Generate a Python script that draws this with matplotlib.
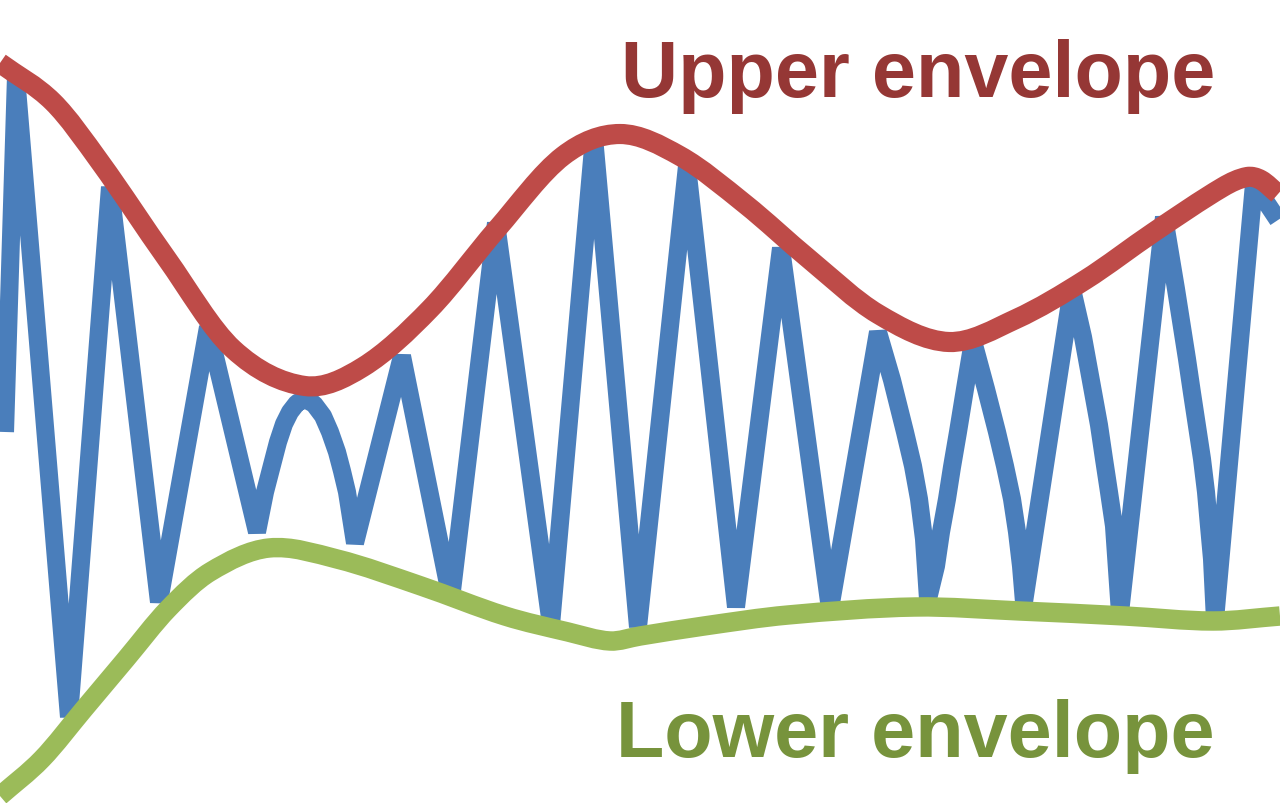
import matplotlib
matplotlib.use("Agg")
import matplotlib.pyplot as plt
import numpy as np
from matplotlib.path import Path
from matplotlib.patches import PathPatch

# Signal (pixel-space coordinates; y grows downward)
signal_x = [5, 16, 69, 110, 159, 208, 257, 265, 272, 278, 284, 290, 297, 305, 314, 323, 330, 337,
            342, 347, 355, 402, 451, 496, 551, 594, 638, 687, 736, 781, 830, 878, 892, 905, 913,
            919, 924, 928, 936, 941, 947, 952, 958, 965, 973, 986, 997, 1005, 1012, 1017,
            1021, 1024, 1072, 1083, 1093, 1099, 1104, 1109, 1114, 1120, 1164, 1176, 1187, 1192,
            1197, 1202, 1206, 1209, 1212, 1215, 1254, 1278]
signal_y = [433, 77, 718, 188, 603, 328, 533, 493, 466, 443, 425, 413, 404, 400, 405, 417, 433, 453,
            472, 493, 544, 357, 600, 224, 626, 138, 628, 167, 608, 249, 610, 333, 381, 433, 467,
            500, 540, 600, 567, 533, 500, 468, 433, 390, 342, 390, 433, 467, 500, 533,
            567, 603, 290, 338, 393, 426, 460, 493, 527, 614, 218, 290, 360, 394,
            427, 460, 493, 527, 560, 621, 185, 221]

# Upper envelope
upper_x = [0, 53, 100, 167, 233, 305, 363, 430, 497, 563, 620, 680, 745, 809, 878, 949, 1016,
           1085, 1154, 1223, 1247, 1261, 1278]
upper_y = [64, 103, 163, 260, 350, 387, 368, 310, 230, 157, 135, 157, 205, 260, 315, 343, 320,
           281, 233, 188, 178, 181, 195]

# Lower envelope
lower_x = [0, 42, 84, 126, 168, 210, 269, 337, 421, 505, 568, 610, 640, 704, 788, 915, 1020, 1125,
           1213, 1280]
lower_y = [797, 760, 710, 660, 610, 573, 549, 560, 587, 617, 633, 642, 637, 627, 616, 608, 612, 617,
           622, 617]

labels = ["Upper envelope", "Lower envelope"]


def smooth_path(x, y):
    """Smooth curve through the points (cardinal spline drawn as cubic Bezier segments)."""
    x = np.asarray(x, float)
    y = np.asarray(y, float)
    n = len(x)
    d = np.zeros(n)
    d[0] = (y[1] - y[0]) / (x[1] - x[0])
    d[-1] = (y[-1] - y[-2]) / (x[-1] - x[-2])
    for k in range(1, n - 1):
        d[k] = (y[k + 1] - y[k - 1]) / (x[k + 1] - x[k - 1])
    verts = [(x[0], y[0])]
    codes = [Path.MOVETO]
    for i in range(n - 1):
        h = x[i + 1] - x[i]
        verts += [(x[i] + h / 3, y[i] + d[i] * h / 3),
                  (x[i + 1] - h / 3, y[i + 1] - d[i + 1] * h / 3),
                  (x[i + 1], y[i + 1])]
        codes += [Path.CURVE4] * 3
    return Path(verts, codes)


W, H = 1280, 804
fig = plt.figure(figsize=(W / 100, H / 100), dpi=100)
ax = fig.add_axes([0, 0, 1, 1])
ax.set_xlim(0, W)
ax.set_ylim(H, 0)
ax.axis("off")

ax.plot(signal_x, signal_y, color="#4A7EBB", lw=13, solid_joinstyle="bevel",
        solid_capstyle="butt", zorder=1)
ax.add_patch(PathPatch(smooth_path(upper_x, upper_y), fill=False, edgecolor="#BE4B48",
                       lw=14.5, capstyle="butt", joinstyle="round", zorder=2))
ax.add_patch(PathPatch(smooth_path(lower_x, lower_y), fill=False, edgecolor="#9BBB59",
                       lw=14, capstyle="butt", joinstyle="round", zorder=2))

ax.text(1215, 97, labels[0], color="#953735", fontsize=57, fontweight="bold",
        family="Liberation Sans", ha="right", va="baseline")
ax.text(1215, 757, labels[1], color="#77933C", fontsize=57, fontweight="bold",
        family="Liberation Sans", ha="right", va="baseline")

fig.savefig("out.png", dpi=100)
